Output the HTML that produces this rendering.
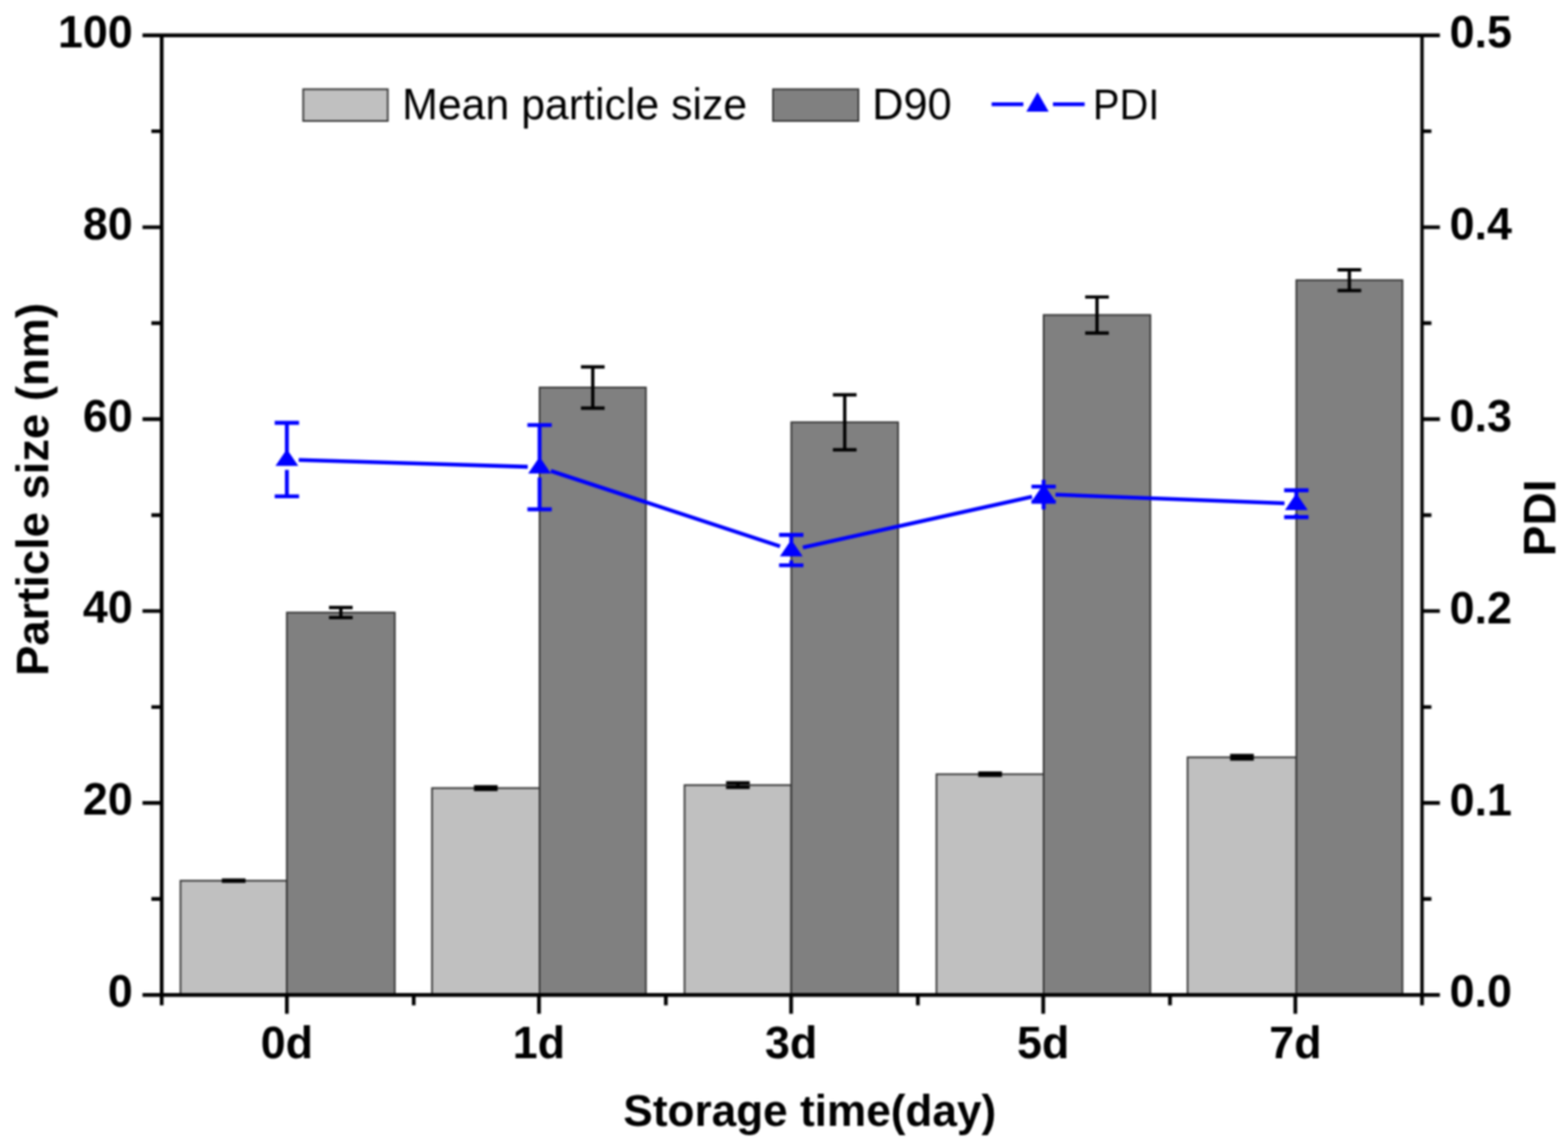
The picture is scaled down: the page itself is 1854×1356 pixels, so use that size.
<!DOCTYPE html>
<html><head><meta charset="utf-8"><title>Particle size and PDI vs storage time</title>
<style>html,body{margin:0;padding:0;background:#fff;}body{width:1854px;height:1356px;overflow:hidden;}svg{display:block;}#w{filter:blur(0.8px);}</style>
</head><body><div id="w">
<svg width="1854" height="1356" viewBox="0 0 1854 1356">
<rect x="0" y="0" width="1854" height="1356" fill="#ffffff"/>
<rect x="213.4" y="1041.2" width="125.8" height="135.0" fill="#c0c0c0" stroke="#333" stroke-width="2"/>
<rect x="339.2" y="724.2" width="127.6" height="452.0" fill="#808080" stroke="#333" stroke-width="2"/>
<rect x="510.8" y="931.7" width="127.2" height="244.5" fill="#c0c0c0" stroke="#333" stroke-width="2"/>
<rect x="638.0" y="458.1" width="125.7" height="718.1" fill="#808080" stroke="#333" stroke-width="2"/>
<rect x="809.4" y="928.2" width="126.2" height="248.0" fill="#c0c0c0" stroke="#333" stroke-width="2"/>
<rect x="935.6" y="499.2" width="126.3" height="677.0" fill="#808080" stroke="#333" stroke-width="2"/>
<rect x="1107.3" y="915.3" width="126.7" height="260.9" fill="#c0c0c0" stroke="#333" stroke-width="2"/>
<rect x="1234.0" y="372.4" width="126.2" height="803.8" fill="#808080" stroke="#333" stroke-width="2"/>
<rect x="1404.2" y="895.3" width="128.6" height="280.9" fill="#c0c0c0" stroke="#333" stroke-width="2"/>
<rect x="1532.8" y="331.2" width="125.5" height="845.0" fill="#808080" stroke="#333" stroke-width="2"/>
<path d="M262.3 1040.5H290.3M262.3 1041.9H290.3M276.3 1040.5V1041.9" stroke="#000" stroke-width="3.9" fill="none"/>
<path d="M389.0 718.3H417.0M389.0 730.1H417.0M403.0 718.3V730.1" stroke="#000" stroke-width="3.9" fill="none"/>
<path d="M560.4 930.1H588.4M560.4 933.3H588.4M574.4 930.1V933.3" stroke="#000" stroke-width="3.9" fill="none"/>
<path d="M686.9 433.7H714.9M686.9 482.5H714.9M700.9 433.7V482.5" stroke="#000" stroke-width="3.9" fill="none"/>
<path d="M858.5 925.5H886.5M858.5 930.9H886.5M872.5 925.5V930.9" stroke="#000" stroke-width="3.9" fill="none"/>
<path d="M984.8 466.7H1012.8M984.8 531.8H1012.8M998.8 466.7V531.8" stroke="#000" stroke-width="3.9" fill="none"/>
<path d="M1156.7 913.9H1184.7M1156.7 916.6H1184.7M1170.7 913.9V916.6" stroke="#000" stroke-width="3.9" fill="none"/>
<path d="M1283.1 351.1H1311.1M1283.1 393.7H1311.1M1297.1 351.1V393.7" stroke="#000" stroke-width="3.9" fill="none"/>
<path d="M1454.5 893.3H1482.5M1454.5 897.3H1482.5M1468.5 893.3V897.3" stroke="#000" stroke-width="3.9" fill="none"/>
<path d="M1581.5 319.0H1609.5M1581.5 343.5H1609.5M1595.5 319.0V343.5" stroke="#000" stroke-width="3.9" fill="none"/>
<path d="M191.2 41.7H1681.4" stroke="#000" stroke-width="4.4" fill="none"/>
<path d="M189.7 1176.2H1682.9" stroke="#000" stroke-width="4.4" fill="none"/>
<path d="M191.2 40.2V1177.7" stroke="#000" stroke-width="4.4" fill="none"/>
<path d="M1681.4 40.2V1177.7" stroke="#000" stroke-width="4.0" fill="none"/>
<path d="M168.5 1176.2H191.2M1681.4 1176.2H1702.5M179 1062.8H191.2M1681.4 1062.8H1692.5M168.5 949.3H191.2M1681.4 949.3H1702.5M179 835.9H191.2M1681.4 835.9H1692.5M168.5 722.4H191.2M1681.4 722.4H1702.5M179 609.0H191.2M1681.4 609.0H1692.5M168.5 495.5H191.2M1681.4 495.5H1702.5M179 382.0H191.2M1681.4 382.0H1692.5M168.5 268.6H191.2M1681.4 268.6H1702.5M179 155.1H191.2M1681.4 155.1H1692.5M168.5 41.7H191.2M1681.4 41.7H1702.5M339.2 1176.2V1198.5M637.3 1176.2V1198.5M935.4 1176.2V1198.5M1233.5 1176.2V1198.5M1531.6 1176.2V1198.5M191.2 1176.2V1188.5M489.2 1176.2V1188.5M787.3 1176.2V1188.5M1085.3 1176.2V1188.5M1383.4 1176.2V1188.5M1681.4 1176.2V1188.5" stroke="#000" stroke-width="4.4" fill="none"/>
<path d="M353.2 543.7L624.0 551.9M651.3 556.7L922.3 645.9M949.3 647.3L1220.3 587.3M1248.0 584.8L1518.8 595.0" stroke="#0000ff" stroke-width="4.6" fill="none"/>
<path d="M324.8 499.9H353.6M324.8 586.7H353.6M339.2 499.9V534.3M339.2 555.5V586.7M623.6 502.5H652.4M623.6 602.1H652.4M638.0 502.5V543.3M638.0 564.5V602.1M921.2 632.4H950.0M921.2 668.2H950.0M935.6 632.4V641.3M935.6 662.5V668.2M1219.6 575.3H1248.4M1219.6 593.3H1248.4M1234.0 575.3V567.3M1234.0 593.3V602.3M1518.4 579.6H1547.2M1518.4 611.4H1547.2M1532.8 579.6V586.5M1532.8 607.7V611.4" stroke="#0000ff" stroke-width="4.6" fill="none"/>
<path d="M339.2 531.1L352.7 550.8L325.7 550.8ZM638.0 540.1L651.5 559.8L624.5 559.8ZM935.6 638.1L949.1 657.8L922.1 657.8ZM1234.0 572.1L1247.5 591.8L1220.5 591.8ZM1532.8 583.3L1546.3 603.0L1519.3 603.0Z" fill="#0000ff"/>
<rect x="358.5" y="105.5" width="100" height="37.5" fill="#c0c0c0" stroke="#333" stroke-width="2"/>
<rect x="914" y="105.5" width="101" height="37.5" fill="#808080" stroke="#333" stroke-width="2"/>
<path d="M1172.5 123.3H1210M1245 123.3H1282.5" stroke="#0000ff" stroke-width="4.6" fill="none"/>
<path d="M1226.8 109.1L1240.0 132.1L1213.5 132.1Z" fill="#0000ff"/>
<g font-family='"Liberation Sans", Arial, sans-serif' font-size="53" fill="#000">
<text x="475.5" y="141.3" font-size="52" textLength="408" lengthAdjust="spacingAndGlyphs">Mean particle size</text>
<text x="1031.2" y="141.2" font-size="52.6" textLength="94" lengthAdjust="spacingAndGlyphs">D90</text>
<text x="1292.3" y="140.6" font-size="50" textLength="78.5" lengthAdjust="spacingAndGlyphs">PDI</text>
</g>
<g font-family='"Liberation Sans", Arial, sans-serif' font-size="53" font-weight="bold" fill="#000">
<text x="157" y="1190.2" text-anchor="end">0</text>
<text x="157" y="963.3" text-anchor="end">20</text>
<text x="157" y="736.4" text-anchor="end">40</text>
<text x="157" y="509.5" text-anchor="end">60</text>
<text x="157" y="282.6" text-anchor="end">80</text>
<text x="157" y="55.7" text-anchor="end">100</text>
<text x="1714" y="1190.4">0.0</text>
<text x="1714" y="963.5">0.1</text>
<text x="1714" y="736.6">0.2</text>
<text x="1714" y="509.7">0.3</text>
<text x="1714" y="282.8">0.4</text>
<text x="1714" y="55.9">0.5</text>
<text x="339.2" y="1251" text-anchor="middle">0d</text>
<text x="637.3" y="1251" text-anchor="middle">1d</text>
<text x="935.4" y="1251" text-anchor="middle">3d</text>
<text x="1233.5" y="1251" text-anchor="middle">5d</text>
<text x="1531.6" y="1251" text-anchor="middle">7d</text>
<text x="957.5" y="1331" text-anchor="middle" font-size="52.2">Storage time(day)</text>
<text transform="translate(56.8 578.6) rotate(-90)" text-anchor="middle" font-size="53.6">Particle size (nm)</text>
<text transform="translate(1839.4 612.3) rotate(-90)" text-anchor="middle" font-size="54.5">PDI</text>
</g>
</svg>
</div></body></html>
